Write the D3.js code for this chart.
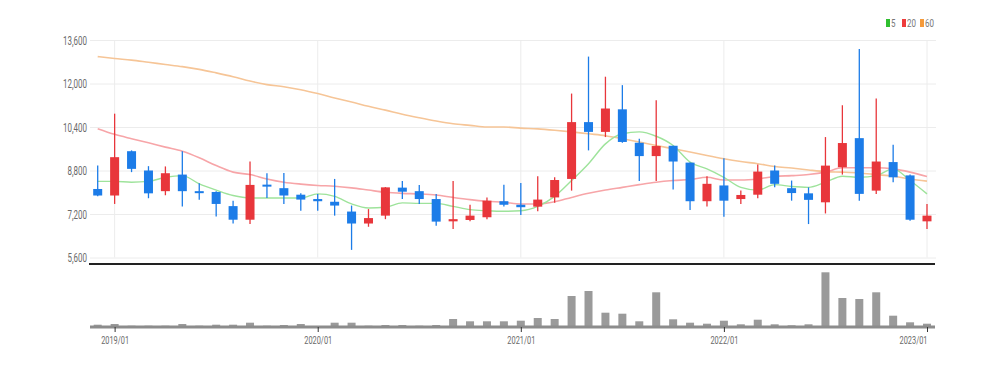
<!DOCTYPE html>
<meta charset="utf-8">
<style>
  body { margin: 0; background: #fff; }
  .tick-label {
    fill: #6a6a6a;
    font-family: "Roboto", sans-serif;
  }
  .legend-label {
    fill: #777;
    font-size: 11px;
    font-family: "Roboto", sans-serif;
  }
</style>

<script src="https://d3js.org/d3.v7.min.js"></script>

<div id="my_dataviz"></div>

<script>

  // monthly candles, 2018/12 .. 2023/01
  const months = ["2018/12",
    "2019/01","2019/02","2019/03","2019/04","2019/05","2019/06","2019/07","2019/08","2019/09","2019/10","2019/11","2019/12",
    "2020/01","2020/02","2020/03","2020/04","2020/05","2020/06","2020/07","2020/08","2020/09","2020/10","2020/11","2020/12",
    "2021/01","2021/02","2021/03","2021/04","2021/05","2021/06","2021/07","2021/08","2021/09","2021/10","2021/11","2021/12",
    "2022/01","2022/02","2022/03","2022/04","2022/05","2022/06","2022/07","2022/08","2022/09","2022/10","2022/11","2022/12",
    "2023/01"]

  const open  = [8120, 7880,9510,8800,8040,8650,8040,8010,7490,6990,8280,8150,7910, 7750,7650,7290,6850,7140,8170,8040,7750,6930,6980,7080,7670,
                 7540,7470,7810,8490,10580,10220,11050,9820,9330,9710,9090,7670, 8250,7750,7910,8800,8150,7960,7630,8920,9990,8060,9110,8620, 6930]
  const high  = [8980, 10890,9540,8960,8950,9510,8330,8040,7690,9130,8700,8710,7960, 7940,8490,7510,7380,8190,8410,8270,7940,8410,7540,7810,8280,
                 8340,8590,8550,11630,12990,12250,11940,9970,11380,9710,9090,8590, 9250,8060,9020,8980,8430,8180,10030,11200,13270,11450,9750,8650, 7570]
  const low   = [7850, 7570,8740,7780,7890,7480,7720,7110,6850,6830,7790,7570,7320, 7320,7140,5880,6730,7010,7750,7570,6770,6650,6930,7010,7480,
                 7160,7300,7610,8060,9540,10030,9820,8410,8410,8100,7350,7480, 7100,7570,7780,8180,7690,6830,7220,8650,7690,7940,8370,6950, 6650]
  const close = [7880, 9290,8860,7960,8700,8040,8010,7570,6990,8270,8210,7880,7730, 7670,7510,6850,7050,8180,8020,7750,6920,7010,7140,7690,7540,
                 7450,7730,8450,10580,10220,11080,9850,9330,9700,9130,7670,8310, 7690,7900,8760,8310,7970,7720,8980,9810,7940,9130,8550,6990, 7140]
  const volume = [230000, 300000,130000,130000,130000,300000,130000,230000,230000,430000,130000,200000,300000,
                  100000,430000,430000,130000,200000,200000,130000,200000,800000,570000,570000,570000,
                  630000,900000,800000,3100000,3600000,1430000,1330000,570000,3470000,770000,430000,330000,
                  630000,270000,730000,270000,170000,270000,5470000,2900000,2800000,3470000,1130000,470000,
                  330000]

  // moving averages (5, 20, 60)
  const ma5  = [8400, 8400,8370,8400,8550,8610,8310,8080,7880,7790,7790,7790,7790, 7940,7850,7570,7420,7450,7610,7590,7590,7480,7360,7320,7300,
                7320,7480,7850,8430,9050,9780,10150,10220,10060,9720,9110,8860, 8550,8180,8080,8280,8210,8180,8370,8590,8550,8610,8860,8430, 7940]
  const ma20 = [10340, 10130,9970,9820,9660,9510,9270,8980,8740,8650,8490,8370,8300, 8250,8220,8160,8080,8000,7960,7940,7900,7810,7730,7670,7630,
                7570,7570,7650,7810,7960,8080,8180,8280,8370,8430,8470,8550, 8450,8450,8490,8580,8610,8650,8740,8900,8900,8900,8860,8740, 8580]
  const ma60 = [12990, 12920,12860,12780,12700,12620,12520,12390,12250,12090,11960,11880,11770, 11630,11470,11320,11160,11020,10870,10740,10620,10520,10460,10400,10400,
                10360,10330,10280,10220,10150,10080,9970,9850,9720,9600,9480,9350, 9230,9130,9050,8950,8890,8820,8760,8740,8710,8650,8590,8490, 8410]

  const yTicks = [5600, 7200, 8800, 10400, 12000, 13600]
  const maNames = ["5", "20", "60"]

  const candles = months.map(function(m, i) {
    return {month: m, open: open[i], high: high[i], low: low[i], close: close[i], volume: volume[i]}
  })

  const W = 999, H = 367
  const plot = {left: 90, right: 936, top: 40, bottom: 257.5}
  const vol = {top: 265, bottom: 327}

  const svg = d3.select("#my_dataviz")
    .append("svg")
      .attr("width", W)
      .attr("height", H)

  const x = d3.scalePoint()
    .domain(months)
    .range([97.7, 927])

  const y = d3.scaleLinear()
    .domain([5600, 13600])
    .range([plot.bottom, plot.top])

  const yVol = d3.scaleLinear()
    .domain([0, 6200000])
    .range([vol.bottom, vol.top])

  const yearTicks = months.filter(function(m) { return m.endsWith("/01") })

  // squeeze text horizontally so that a sample string gets the wanted width
  function squeeze(sel, sampleText, targetWidth) {
    const probe = svg.append("text").attr("class", sel.attr("class")).style("font-size", sel.style("font-size")).text(sampleText)
    const k = targetWidth / probe.node().getComputedTextLength()
    probe.remove()
    sel.each(function() {
      const t = d3.select(this)
      const x0 = +t.attr("x") || 0
      t.attr("x", x0 / k).attr("transform", `scale(${k},1)`)
    })
  }

  // horizontal grid + y labels
  const yAxis = svg.append("g")
    .attr("transform", `translate(${plot.left}, 0)`)
    .call(d3.axisLeft(y).tickValues(yTicks).tickSize(-(plot.right - plot.left)).tickPadding(3)
      .tickFormat(d3.format(",")))
  yAxis.select(".domain").remove()
  yAxis.selectAll(".tick line").attr("stroke", "#ececec")
  const yLabels = yAxis.selectAll(".tick text").attr("class", "tick-label").style("font-size", "12.5px")
  squeeze(yLabels, "13,600", 24)

  // vertical grid at years
  svg.append("g")
    .selectAll("line")
    .data(yearTicks)
    .join("line")
      .attr("x1", d => x(d)).attr("x2", d => x(d))
      .attr("y1", plot.top).attr("y2", plot.bottom)
      .attr("stroke", "#ececec")

  // moving average lines
  const maLine = d3.line()
    .x((d, i) => x(months[i]))
    .y(d => y(d))
    .curve(d3.curveMonotoneX)

  svg.append("path").datum(ma60).attr("d", maLine)
    .attr("fill", "none").attr("stroke", "#f6c597").attr("stroke-width", 1.6)
  svg.append("path").datum(ma20).attr("d", maLine)
    .attr("fill", "none").attr("stroke", "#f7a5a8").attr("stroke-width", 1.6)
  svg.append("path").datum(ma5).attr("d", maLine)
    .attr("fill", "none").attr("stroke", "#9ee39b").attr("stroke-width", 1.4)

  // candles
  const upColor = "#e8363b", downColor = "#1c7ce8"
  const candleColor = d => d.close >= d.open ? upColor : downColor
  const bodyW = 9

  const cg = svg.append("g")
    .selectAll("g")
    .data(candles)
    .join("g")

  cg.append("line")
    .attr("x1", d => x(d.month)).attr("x2", d => x(d.month))
    .attr("y1", d => y(d.high)).attr("y2", d => y(d.low))
    .attr("stroke", candleColor)
    .attr("stroke-width", 1.3)

  cg.append("rect")
    .attr("x", d => x(d.month) - bodyW / 2)
    .attr("width", bodyW)
    .attr("y", d => y(Math.max(d.open, d.close)))
    .attr("height", d => Math.max(2, Math.abs(y(d.open) - y(d.close))))
    .attr("fill", candleColor)

  // separator
  svg.append("line")
    .attr("x1", plot.left - 1).attr("x2", plot.right - 1)
    .attr("y1", 264).attr("y2", 264)
    .attr("stroke", "#222").attr("stroke-width", 2)

  // volume bars
  svg.append("g")
    .selectAll("rect")
    .data(candles)
    .join("rect")
      .attr("x", d => x(d.month) - 4)
      .attr("width", 8)
      .attr("y", d => yVol(d.volume))
      .attr("height", d => vol.bottom - yVol(d.volume))
      .attr("fill", "#9a9a9a")

  // volume x axis
  const xAxis = svg.append("g")
    .attr("transform", `translate(0, ${vol.bottom})`)
    .call(d3.axisBottom(x).tickValues(yearTicks).tickSize(5).tickPadding(4))
  xAxis.select(".domain")
    .attr("d", `M${plot.left},0H${plot.right - 1}`)
    .attr("stroke", "#8c8c8c").attr("stroke-width", 3)
  xAxis.selectAll(".tick line").attr("stroke", "#333")
  const xLabels = xAxis.selectAll(".tick text").attr("class", "tick-label").style("font-size", "11px")
  // last label sits right of its tick so it stays inside the chart
  xLabels.filter(d => d === months[months.length - 1]).attr("text-anchor", "end")
  squeeze(xLabels, "2019/01", 28)

  // legend
  const legendColors = ["#2fbf2f", "#ee3b3b", "#f59a3a"]
  const legendX = [886, 902, 920]
  const legend = svg.append("g")
    .selectAll("g")
    .data(maNames)
    .join("g")
      .attr("transform", (d, i) => `translate(${legendX[i]}, 23)`)
  legend.append("rect")
    .attr("x", 0).attr("y", -4).attr("width", 4).attr("height", 8)
    .attr("fill", (d, i) => legendColors[i])
  const legendText = legend.append("text")
    .attr("class", "legend-label")
    .attr("x", 5).attr("y", 4)
    .text(d => d)
  squeeze(legendText, "20", 9)

</script>
